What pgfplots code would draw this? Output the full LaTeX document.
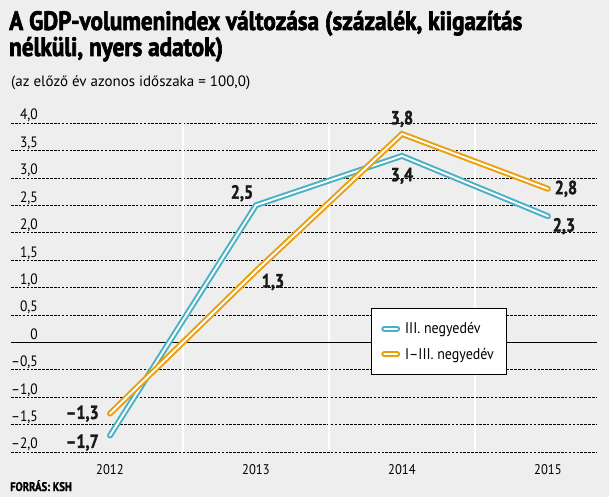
\documentclass[border=0pt]{standalone}
\usepackage{pgfplots}
\pgfplotsset{compat=1.18}
\usepackage{pgfplotstable}
\usepackage{fontspec}
\setmainfont{PT Sans}
\newfontfamily\titlefont[FakeStretch=0.875, FakeBold=2.4]{PT Sans Bold}
\newfontfamily\labbold[FakeStretch=0.85, FakeBold=1.4]{PT Sans Bold}
\newfontfamily\condreg[FakeStretch=0.9]{PT Sans}
\definecolor{bg}{RGB}{238,238,238}
\definecolor{tealline}{RGB}{74,177,197}
\definecolor{orangeline}{RGB}{233,160,12}
\tikzset{lab/.style={font=\labbold\fontsize{19}{19}\selectfont, inner sep=0pt, text=black!90}}

% GDP volume index change, per cent (same period of previous year = 100)
\pgfplotstableread{
x   q3    q13
0  -1.7  -1.3
1   2.5   1.3
2   3.4   3.8
3   2.3   2.8
}\gdpdata

\begin{document}
\begin{tikzpicture}
\fill[bg] (0pt,0pt) rectangle (609pt,497pt);

% title block
\node[anchor=base west, inner sep=0pt, font=\titlefont\fontsize{26.5}{26.5}\selectfont]
  at (9pt,467pt) {A GDP-volumenindex változása (százalék, kiigazítás};
\node[anchor=base west, inner sep=0pt, font=\titlefont\fontsize{26.5}{26.5}\selectfont]
  at (9pt,441pt) {nélküli, nyers adatok)};
\node[anchor=base west, inner sep=0pt, font=\fontsize{15}{15}\selectfont]
  at (11pt,410pt) {(az előző év azonos időszaka = 100,0)};
\node[anchor=base west, inner sep=0pt, font=\labbold\fontsize{12.5}{12.5}\selectfont]
  at (10pt,6pt) {FORRÁS: KSH};

\begin{axis}[
  at={(11pt,45pt)}, anchor=south west,
  scale only axis, width=586pt, height=329pt,
  xmin=-0.678, xmax=3.336, ymin=-2, ymax=4,
  clip=false,
  axis line style={draw=none},
  major tick length=0pt,
  tick style={draw=none},
  xtick={0,1,2,3},
  xticklabels={2012,2013,2014,2015},
  xticklabel style={font=\condreg\fontsize{14}{14}\selectfont, anchor=base, inner sep=0pt, yshift=-22pt},
  ytick={-2,-1.5,...,4},
  yticklabels={{–2,0},{–1,5},{–1,0},{–0,5},0,{0,5},{1,0},{1,5},{2,0},{2,5},{3,0},{3,5},{4,0}},
  yticklabel style={font=\condreg\fontsize{15}{15}\selectfont, anchor=base east, inner sep=0pt, xshift=27pt, yshift=3pt},
  ymajorgrids,
  major grid style={black, line width=0.5pt, dash pattern=on 2.6pt off 1.3pt},
  extra y ticks={0},
  extra y tick labels={},
  extra y tick style={grid=major, major grid style={black, solid, line width=0.8pt}},
  extra x ticks={0.5,1.5,2.5},
  extra x tick labels={},
  extra x tick style={grid=major, major grid style={white, solid, line width=2.2pt}},
  legend cell align=left,
  legend image code/.code={\draw[#1] (0pt,0pt) -- (13pt,0pt);},
  legend style={at={(0.6143,0.4377)}, anchor=north west, draw=black, line width=0.6pt,
    fill=white, font=\condreg\fontsize{15.5}{15.5}\selectfont,
    inner xsep=10pt, inner ysep=12pt, row sep=9pt,
    /tikz/every odd column/.append style={column sep=3pt}},
]
\addplot[tealline, line width=2pt, double=white, double distance=1.9pt,
  line cap=round, line join=miter] table[x=x, y=q3] {\gdpdata};
\addlegendentry{III. negyedév}
\addplot[orangeline, line width=2pt, double=white, double distance=1.9pt,
  line cap=round, line join=miter] table[x=x, y=q13] {\gdpdata};
\addlegendentry{I–III. negyedév}

% value labels
\node[lab, anchor=east, xshift=-11pt] at (axis cs:0,-1.3) {–1,3};
\node[lab, anchor=east, xshift=-11pt, yshift=-7pt] at (axis cs:0,-1.7) {–1,7};
\node[lab, xshift=-14pt, yshift=12pt] at (axis cs:1,2.5) {2,5};
\node[lab, xshift=17pt, yshift=-11pt] at (axis cs:1,1.3) {1,3};
\node[lab, xshift=0pt, yshift=15pt] at (axis cs:2,3.8) {3,8};
\node[lab, yshift=-20pt] at (axis cs:2,3.4) {3,4};
\node[lab, xshift=18pt] at (axis cs:3,2.8) {2,8};
\node[lab, xshift=16pt, yshift=-10pt] at (axis cs:3,2.3) {2,3};
\end{axis}
\end{tikzpicture}
\end{document}
